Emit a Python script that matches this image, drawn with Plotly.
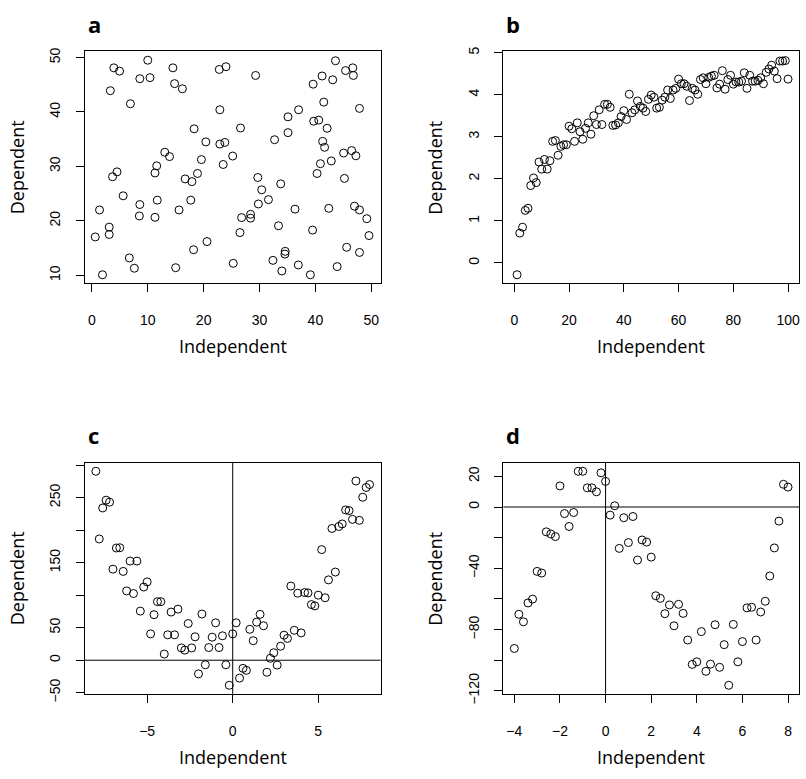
import plotly.graph_objects as go

# ---------------- data ----------------
a_x = [3.93, 4.95, 10.0, 14.5, 8.58, 10.4, 22.8, 24.0, 14.8, 16.2, 3.3, 6.9, 22.9, 18.3, 20.4, 22.9, 23.8,
       25.2, 23.5, 19.6, 13.05, 13.9, 11.6, 11.3, 18.9, 16.7, 17.9, 4.5, 3.7, 5.6, 1.37, 8.58, 11.7, 8.5,
       11.3, 15.6, 17.7, 3.1, 3.1, 0.6, 20.6, 18.2, 6.7, 7.6, 15.0, 1.9,
       29.3, 26.6, 32.7, 35.1, 37.0, 35.1, 43.6, 45.4, 46.7, 46.8, 41.2, 43.1, 39.6, 41.5, 47.9, 39.7, 40.6,
       42.1, 41.3, 41.65, 45.05, 46.5, 47.25, 40.9, 42.85, 40.3, 45.2, 29.7, 30.4, 33.8, 31.6, 29.8, 28.4,
       28.4, 26.8, 26.5, 36.35, 33.4, 39.5, 42.4, 47.0, 47.9, 49.2, 49.6, 45.6, 47.9, 34.6, 34.55, 32.4,
       25.3, 34.0, 36.95, 39.1, 43.9]
a_y = [48.1, 47.5, 49.5, 48.1, 46.1, 46.3, 47.8, 48.3, 45.2, 44.25, 43.9, 41.5, 40.4, 36.9, 34.5, 34.1, 34.4,
       31.9, 30.35, 31.25, 32.6, 31.8, 30.1, 28.8, 28.7, 27.7, 27.2, 29.0, 28.1, 24.6, 22.0, 23.0, 23.8, 20.9,
       20.65, 22.0, 23.8, 18.85, 17.5, 17.05, 16.2, 14.7, 13.2, 11.3, 11.4, 10.1,
       46.7, 37.05, 34.9, 39.1, 40.4, 36.2, 49.4, 47.6, 48.1, 46.7, 46.6, 45.9, 45.1, 41.8, 40.65, 38.3, 38.5,
       37.0, 34.6, 33.5, 32.45, 32.9, 31.95, 30.5, 31.0, 28.7, 27.8, 27.96, 25.7, 26.8, 23.9, 23.1, 21.2,
       20.5, 20.6, 17.85, 22.15, 19.1, 18.3, 22.3, 22.7, 22.0, 20.4, 17.3, 15.15, 14.2, 14.4, 13.9, 12.75,
       12.2, 10.8, 11.9, 10.1, 11.6]

b_x = list(range(1, 101))
b_y = [-0.28, 0.71, 0.85, 1.25, 1.30, 1.84, 2.02, 1.91, 2.40, 2.23,
       2.46, 2.23, 2.43, 2.89, 2.91, 2.56, 2.77, 2.81, 2.81, 3.25,
       3.19, 2.89, 3.33, 3.12, 2.94, 3.20, 3.33, 3.06, 3.50, 3.29,
       3.64, 3.29, 3.77, 3.77, 3.70, 3.27, 3.28, 3.33, 3.48, 3.62,
       3.41, 4.01, 3.57, 3.64, 3.85, 3.72, 3.68, 3.60, 3.89, 3.99,
       3.94, 3.68, 3.70, 3.87, 3.94, 4.11, 3.91, 4.11, 4.15, 4.37,
       4.26, 4.26, 4.20, 3.86, 4.15, 4.11, 4.01, 4.36, 4.40, 4.26,
       4.41, 4.44, 4.46, 4.16, 4.25, 4.57, 4.13, 4.36, 4.46, 4.25,
       4.30, 4.30, 4.32, 4.52, 4.15, 4.46, 4.32, 4.32, 4.34, 4.40,
       4.26, 4.53, 4.61, 4.70, 4.56, 4.38, 4.80, 4.80, 4.81, 4.37]

c_x = [round(-8 + 0.2 * i, 1) for i in range(81)]
c_y = [290.4, 186.4, 234.0, 246.0, 243.0, 140.0, 172.5, 172.9, 136.5, 106.5,
       152.4, 102.5, 152.4, 75.5, 112.5, 120.4, 40.5, 70.0, 90.0, 90.0,
       9.5, 39.0, 74.0, 39.0, 78.5, 18.9, 15.5, 56.4, 18.9, 36.0,
       -21.0, 71.0, -7.0, 19.5, 35.4, 57.5, 19.5, 37.5, -7.0, -38.5,
       40.5, 57.5, -27.5, -12.5, -15.5, 47.5, 30.0, 58.5, 70.5, 53.0,
       -18.5, 3.0, 11.5, -7.5, 21.5, 38.5, 33.5, 114.0, 46.0, 103.0,
       42.0, 104.0, 103.5, 85.5, 83.5, 100.0, 170.0, 96.0, 123.5, 202.5,
       135.5, 205.5, 209.5, 231.0, 230.0, 216.5, 275.5, 215.0, 250.5, 265.5,
       270.0]

d_x = [round(-4 + 0.2 * i, 1) for i in range(61)]
d_y = [-92.3, -70.0, -74.9, -62.6, -60.1, -42.0, -43.1, -16.2, -17.6, -19.3,
       13.75, -4.3, -12.7, -3.6, 23.3, 23.3, 12.5, 12.5, 9.9, 22.3,
       16.7, -5.3, 0.8, -27.0, -7.0, -23.2, -6.2, -34.6, -21.5, -22.9,
       -32.7, -57.9, -59.6, -69.6, -63.9, -77.5, -63.5, -69.4, -86.8, -102.7,
       -101.0, -81.3, -107.2, -102.5, -76.8, -104.6, -89.8, -116.3, -76.6, -101.0,
       -87.8, -65.8, -65.4, -86.8, -68.5, -61.5, -45.0, -26.7, -9.2, 14.8,
       13.0]

a_xticks = [0, 10, 20, 30, 40, 50]
a_yticks = [10, 20, 30, 40, 50]
b_xticks = [0, 20, 40, 60, 80, 100]
b_yticks = [0, 1, 2, 3, 4, 5]
c_xticks = [-5, 0, 5]
c_xlabels = ["\u22125", "0", "5"]
c_yticks = [-50, 0, 50, 100, 150, 200, 250, 300]
c_ylabels = ["\u221250", "0", "50", "", "150", "", "250", ""]
d_xticks = [-4, -2, 0, 2, 4, 6, 8]
d_xlabels = ["\u22124", "\u22122", "0", "2", "4", "6", "8"]
d_yticks = [-120, -100, -80, -60, -40, -20, 0, 20]
d_ylabels = ["\u2212120", "", "\u221280", "", "\u221240", "", "0", "20"]
ref_lines = 0  # abline(h=0, v=0) in panels c and d

panel_letters = ["a", "b", "c", "d"]
x_title = "Independent"
y_title = "Dependent"

# ---------------- layout geometry (page pixels) ----------------
W, H = 806, 779
boxes = {  # left, right, top, bottom (page pixels)
    "a": (85, 381, 47.3, 284),
    "b": (504, 800, 47.3, 284),
    "c": (85, 381, 467.3, 703.3),
    "d": (504, 800, 467.3, 703.3),
}
ranges = {
    "a": ([-1.25, 51.66], [8.56, 51.13]),
    "b": ([-4.0, 104.0], [-0.48, 5.03]),
    "c": ([-8.64, 8.64], [-51.7, 303.6]),
    "d": ([-4.48, 8.48], [-121.9, 28.9]),
}
ticks = {
    "a": (a_xticks, None, a_yticks, None),
    "b": (b_xticks, None, b_yticks, None),
    "c": (c_xticks, c_xlabels, c_yticks, c_ylabels),
    "d": (d_xticks, d_xlabels, d_yticks, d_ylabels),
}
data = {"a": (a_x, a_y), "b": (b_x, b_y), "c": (c_x, c_y), "d": (d_x, d_y)}

TICKFONT = dict(family="Liberation Sans, Arial, sans-serif", size=14, color="black")
TITLEFONT = dict(family="Open Sans, sans-serif", size=18, color="black")
LETTERFONT = dict(family="Open Sans, sans-serif", size=22, color="black")


def px_x(p):
    return p / W


def px_y(p):
    return 1 - p / H


fig = go.Figure()
layout = dict(width=W, height=H, margin=dict(l=0, r=0, t=0, b=0),
              plot_bgcolor="white", paper_bgcolor="white", showlegend=False)
annotations = []
shapes = []

for i, key in enumerate(["a", "b", "c", "d"]):
    n = "" if i == 0 else str(i + 1)
    l, r, t, b = boxes[key]
    xr, yr = ranges[key]
    xt, xl, yt, yl = ticks[key]
    xs, ys = data[key]
    fig.add_trace(go.Scatter(
        x=xs, y=ys, mode="markers", xaxis="x" + n, yaxis="y" + n,
        marker=dict(symbol="circle-open", size=8, color="black", line=dict(width=1, color="black")),
        hoverinfo="x+y"))
    xa = dict(domain=[px_x(l), px_x(r)], range=xr, anchor="y" + n,
              showline=True, mirror=True, linecolor="black", linewidth=1,
              ticks="outside", ticklen=8, tickwidth=1, tickcolor="black",
              tickvals=xt, showgrid=False, zeroline=False, tickfont=TICKFONT,
              ticklabelstandoff=16)
    ya = dict(domain=[px_y(b), px_y(t)], range=yr, anchor="x" + n,
              showline=True, mirror=True, linecolor="black", linewidth=1,
              ticks="outside", ticklen=8, tickwidth=1, tickcolor="black",
              tickvals=yt, showgrid=False, zeroline=False, tickfont=TICKFONT,
              tickangle=-90, ticklabelstandoff=10)
    if xl is not None:
        xa["ticktext"] = xl
    if yl is not None:
        ya["ticktext"] = yl
    layout["xaxis" + n] = xa
    layout["yaxis" + n] = ya

    annotations.append(dict(text=x_title, x=px_x((l + r) / 2), y=px_y(b + 64), xref="paper", yref="paper",
                            showarrow=False, font=TITLEFONT, xanchor="center", yanchor="middle"))
    annotations.append(dict(text=y_title, x=px_x(l - 68), y=px_y((t + b) / 2), xref="paper", yref="paper",
                            showarrow=False, font=TITLEFONT, textangle=-90,
                            xanchor="center", yanchor="middle"))
    annotations.append(dict(text="<b>" + panel_letters[i] + "</b>", x=px_x(l + 1), y=px_y(t - 28),
                            xref="paper", yref="paper", showarrow=False, font=LETTERFONT,
                            xanchor="left", yanchor="middle"))
    if key in ("c", "d"):
        shapes.append(dict(type="line", xref="x" + n, yref="y" + n + " domain",
                           x0=ref_lines, x1=ref_lines, y0=0, y1=1,
                           line=dict(color="black", width=1)))
        shapes.append(dict(type="line", xref="x" + n + " domain", yref="y" + n,
                           x0=0, x1=1, y0=ref_lines, y1=ref_lines,
                           line=dict(color="black", width=1)))

layout["annotations"] = annotations
layout["shapes"] = shapes
fig.update_layout(**layout)
# remove the default page margin so the figure sits at the top-left corner of the window
fig.write_html("out.html", config={"displayModeBar": False},
               post_script="document.body.style.margin='0px';")
